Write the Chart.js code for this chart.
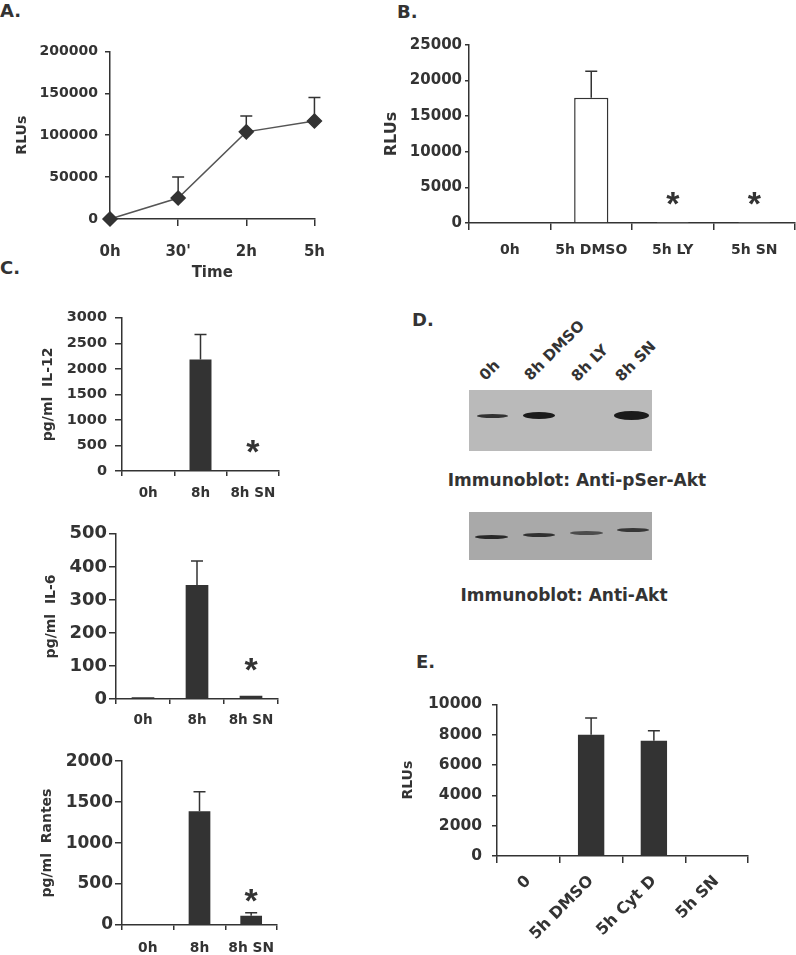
<!DOCTYPE html>
<html>
<head>
<meta charset="utf-8">
<script src="https://cdn.jsdelivr.net/npm/chart.js@4.4.0/dist/chart.umd.min.js"></script>
<style>
body{margin:0;background:#fff;width:796px;height:955px;overflow:hidden;font-family:"DejaVu Sans",sans-serif;color:#333}
#fig{position:relative;width:796px;height:955px}
canvas{position:absolute}
.txt{position:absolute;font-weight:bold;white-space:nowrap;line-height:1}
.letter{font-size:18px}
.lane{font-size:15px;transform-origin:0 12.7px;transform:rotate(-45deg)}
.cap{font-size:17px;transform:translate(-50%,-50%)}
.blot{position:absolute;overflow:hidden}
.band{position:absolute;background:#1b1b1b;border-radius:50%;filter:blur(0.7px)}
</style>
</head>
<body>
<div id="fig">
  <div class="txt letter" style="left:0px;top:2px">A.</div>
  <div class="txt letter" style="left:397px;top:3px">B.</div>
  <div class="txt letter" style="left:0px;top:259px">C.</div>
  <div class="txt letter" style="left:412px;top:311px">D.</div>
  <div class="txt letter" style="left:416px;top:653px">E.</div>

  <canvas id="chartA"></canvas>
  <canvas id="chartB"></canvas>
  <canvas id="chartIL12"></canvas>
  <canvas id="chartIL6"></canvas>
  <canvas id="chartRantes"></canvas>
  <canvas id="chartE"></canvas>

  <!-- D: immunoblots -->
  <div class="txt lane" style="left:486px;top:369px">0h</div>
  <div class="txt lane" style="left:531px;top:369px">8h DMSO</div>
  <div class="txt lane" style="left:578px;top:370px">8h LY</div>
  <div class="txt lane" style="left:622px;top:370px">8h SN</div>
  <div class="blot" style="left:469px;top:390px;width:183px;height:61px;background:#bababa">
    <div class="band" style="left:8px;top:24px;width:31px;height:4px;opacity:.85"></div>
    <div class="band" style="left:54px;top:22px;width:32px;height:7px"></div>
    <div class="band" style="left:145px;top:21px;width:35px;height:9px"></div>
  </div>
  <div class="txt cap" style="left:577px;top:480px">Immunoblot: Anti-pSer-Akt</div>
  <div class="blot" style="left:469px;top:512px;width:183px;height:48px;background:#a9a9a9">
    <div class="band" style="left:6px;top:23px;width:33px;height:4px;opacity:.9"></div>
    <div class="band" style="left:54px;top:21px;width:32px;height:4px;opacity:.85"></div>
    <div class="band" style="left:101px;top:19px;width:33px;height:4px;opacity:.65"></div>
    <div class="band" style="left:148px;top:16px;width:32px;height:4px;opacity:.8"></div>
  </div>
  <div class="txt cap" style="left:564px;top:595px">Immunoblot: Anti-Akt</div>
</div>

<script>
//-- A: time course (RLUs) ---->
var timeLabels = ["0h", "30'", "2h", "5h"];
var timeRLU    = [0, 25000, 104000, 117000];
var timeErr    = [null, 50000, 123000, 145000];
var timeAxis   = [0, 200000, 50000];      // min, max, step

//-- B: inhibitors (RLUs) ---->
var bLabels = ["0h", "5h DMSO", "5h LY", "5h SN"];
var bRLU    = [0, 17600, 40, 40];
var bErr    = [null, 21300, null, null];
var bStars  = [null, null, 3200, 3200];
var bAxis   = [0, 25000, 5000];

//-- C: cytokines (pg/ml) ---->
var cLabels     = ["0h", "8h", "8h SN"];
var il12        = [0, 2180, 0];
var il12Err     = [null, 2670, null];
var il12Stars   = [null, null, 450];
var il12Axis    = [0, 3000, 500];
var il6         = [5, 345, 10];
var il6Err      = [null, 418, null];
var il6Stars    = [null, null, 100];
var il6Axis     = [0, 500, 100];
var rantes      = [0, 1390, 113];
var rantesErr   = [null, 1626, 150];
var rantesStars = [null, null, 340];
var rantesAxis  = [0, 2000, 500];

//-- E: cytochalasin D (RLUs) ---->
var eLabels = ["0", "5h DMSO", "5h Cyt D", "5h SN"];
var eRLU    = [0, 8000, 7600, 0];
var eErr    = [null, 9100, 8250, null];
var eAxis   = [0, 10000, 2000];

var ink = '#333333';
var fam = '"DejaVu Sans", sans-serif';
Chart.defaults.font.family = fam;
Chart.defaults.color = ink;

//-- error bars (upper only) drawn from the point / bar top
var errBars = {
  id: 'errBars',
  beforeDatasetsDraw: function (chart, args, opts) {
    if (!opts.values) return;
    var ctx = chart.ctx, meta = chart.getDatasetMeta(0), ys = chart.scales.y;
    ctx.save();
    ctx.strokeStyle = ink;
    ctx.lineWidth = 1.5;
    opts.values.forEach(function (v, i) {
      if (v == null) return;
      var el = meta.data[i], yTop = ys.getPixelForValue(v);
      ctx.beginPath();
      ctx.moveTo(el.x, el.y);
      ctx.lineTo(el.x, yTop);
      ctx.moveTo(el.x - 6, yTop);
      ctx.lineTo(el.x + 6, yTop);
      ctx.stroke();
    });
    ctx.restore();
  }
};

//-- significance asterisks
var stars = {
  id: 'stars',
  afterDatasetsDraw: function (chart, args, opts) {
    if (!opts.values) return;
    var ctx = chart.ctx, meta = chart.getDatasetMeta(0), ys = chart.scales.y;
    ctx.save();
    ctx.fillStyle = ink;
    ctx.font = 'bold 34px "Liberation Sans", Arial, sans-serif';
    ctx.textAlign = 'center';
    ctx.textBaseline = 'alphabetic';
    opts.values.forEach(function (v, i) {
      if (v == null) return;
      ctx.fillText('*', meta.data[i].x, ys.getPixelForValue(v) + 15);
    });
    ctx.restore();
  }
};

//-- place a canvas so that its plot area lands on box (page pixels)
function panel(id, box, type, labels, dataset, axis, errs, starVals) {
  var canvas = document.getElementById(id);
  var left = box.l - box.wy, top = box.t - box.pt;
  canvas.width = box.r - box.l + box.wy + box.pr;
  canvas.height = box.b - box.t + box.pt + box.hx;
  canvas.style.left = left + 'px';
  canvas.style.top = top + 'px';

  var isBar = type === 'bar';
  var ytSize = box.ytSize || 14;

  var xScale = {
    offset: isBar,
    grid: {drawOnChartArea: false, offset: isBar, color: ink, lineWidth: 1.5, tickLength: box.xtl},
    border: {color: ink, width: 1.5},
    ticks: {color: ink, font: {weight: 'bold', size: box.xf}, padding: box.xpad, autoSkip: false,
            minRotation: box.rot || 0, maxRotation: box.rot || 0},
    afterFit: function (s) { s.height = box.hx; }
  };
  if (box.xTitle) {
    xScale.title = {display: true, text: box.xTitle, color: ink,
      font: {weight: 'bold', size: 15},
      padding: {top: 0, bottom: (top + canvas.height) - box.xty - 15 * 1.2 / 2}};
  }

  return new Chart(canvas, {
    type: type,
    data: {labels: labels, datasets: [dataset]},
    options: {
      responsive: false,
      animation: false,
      layout: {padding: {top: box.pt, right: box.pr, left: 0, bottom: 0}},
      plugins: {legend: {display: false}, tooltip: {enabled: false},
                errBars: {values: errs}, stars: {values: starVals}},
      scales: {
        x: xScale,
        y: {
          min: axis[0], max: axis[1],
          grid: {drawOnChartArea: false, color: ink, lineWidth: 1.5, tickLength: box.ytl},
          border: {color: ink, width: 1.5},
          ticks: {stepSize: axis[2], color: ink, font: {weight: 'bold', size: box.yf},
                  padding: box.ypad, callback: function (v) { return String(v); }},
          title: {display: true, text: box.yTitle, color: ink,
                  font: {weight: 'bold', size: ytSize},
                  padding: {top: box.ytx - left - ytSize * 1.2 / 2, bottom: 0}},
          afterFit: function (s) { s.width = box.wy; }
        }
      }
    },
    plugins: [errBars, stars]
  });
}

function bars(values, fill) {
  return {data: values, backgroundColor: fill || ink, borderColor: ink,
          borderWidth: fill ? 1.5 : 0, categoryPercentage: 1, barPercentage: 0.42};
}

// A
panel('chartA',
  {l: 110, t: 48, r: 320, b: 219, wy: 110, pt: 12, pr: 22, hx: 66,
   yf: 14, xf: 15, ytl: 5, ypad: 7, xtl: 7, xpad: 17, yTitle: 'RLUs', ytx: 22,
   xTitle: 'Time', xty: 273},
  'line', timeLabels,
  {data: timeRLU, borderColor: '#555555', borderWidth: 1.5, tension: 0, clip: false,
   pointStyle: 'rectRot', pointRadius: 7, pointBackgroundColor: ink, pointBorderColor: ink},
  timeAxis, timeErr, null);

// B
panel('chartB',
  {l: 469, t: 45, r: 795, b: 223, wy: 89, pt: 12, pr: 1, hx: 45,
   yf: 15, xf: 14, ytl: 4, ypad: 3, xtl: 7, xpad: 11.6, yTitle: 'RLUs', ytx: 392, ytSize: 16},
  'bar', bLabels, bars(bRLU, '#ffffff'), bAxis, bErr, bStars);

// C
panel('chartIL12',
  {l: 122, t: 313, r: 279, b: 471, wy: 92, pt: 12, pr: 14, hx: 35,
   yf: 14.5, xf: 13.5, ytl: 7, ypad: 8, xtl: 5, xpad: 8.9, yTitle: 'pg/ml  IL-12', ytx: 48},
  'bar', cLabels, bars(il12), il12Axis, il12Err, il12Stars);

panel('chartIL6',
  {l: 116, t: 533, r: 278, b: 699, wy: 86, pt: 12, pr: 14, hx: 35,
   yf: 18, xf: 13.5, ytl: 7, ypad: 2, xtl: 5, xpad: 7.9, yTitle: 'pg/ml  IL-6', ytx: 51},
  'bar', cLabels, bars(il6), il6Axis, il6Err, il6Stars);

panel('chartRantes',
  {l: 122, t: 761, r: 277, b: 925, wy: 92, pt: 12, pr: 14, hx: 32,
   yf: 17, xf: 13.8, ytl: 7, ypad: 2, xtl: 5, xpad: 9.7, yTitle: 'pg/ml  Rantes', ytx: 47},
  'bar', cLabels, bars(rantes), rantesAxis, rantesErr, rantesStars);

// E
panel('chartE',
  {l: 497, t: 697, r: 748, b: 856, wy: 102, pt: 12, pr: 14, hx: 95,
   yf: 15.5, xf: 16, ytl: 5, ypad: 10, xtl: 7, xpad: 9, rot: 45, yTitle: 'RLUs', ytx: 408},
  'bar', eLabels, bars(eRLU), eAxis, eErr, null);
</script>
</body>
</html>
